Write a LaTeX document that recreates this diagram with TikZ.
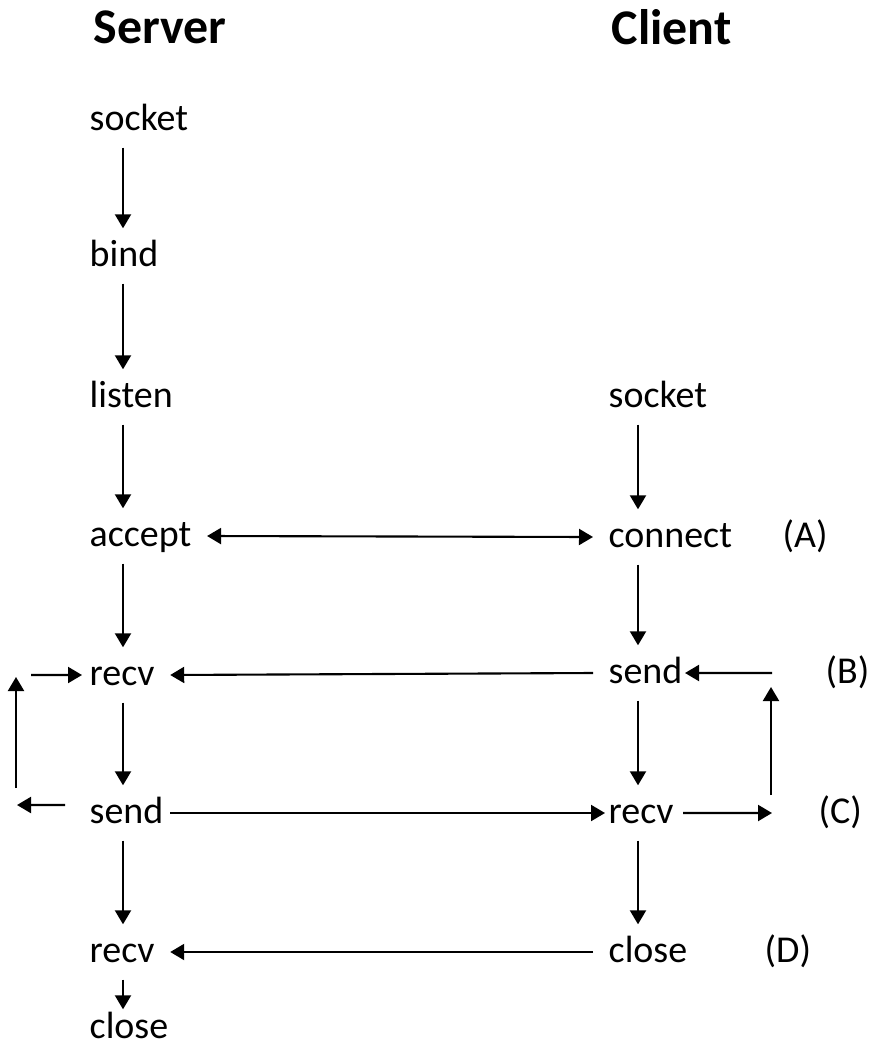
\documentclass[tikz,border=0pt]{standalone}
\usepackage{fontspec}
\setmainfont{Carlito}
\usetikzlibrary{arrows.meta}
\begin{document}
\begin{tikzpicture}[
    call/.style={anchor=base west,inner xsep=0.15cm,inner ysep=0,text height=0.37cm,text depth=0.17cm,font=\fontsize{10.8}{12}\selectfont},
    title/.style={anchor=base west,inner sep=0,font=\fontsize{14.2}{17}\selectfont\bfseries},
    tag/.style={anchor=base west,inner sep=0,font=\fontsize{10.8}{12}\selectfont},
    arr/.style={-{Triangle[length=0.14cm,width=0.16cm]},line width=0.6pt},
    darr/.style={{Triangle[length=0.14cm,width=0.16cm]}-{Triangle[length=0.14cm,width=0.16cm]},line width=0.6pt}
]
    \useasboundingbox (0,0) rectangle (8.7,-10.45);
    %% Headings
    \node[title] (server) at (0.93,-0.43) {Server};
    \node[title] (client) at (6.11,-0.44) {Client};
    %% Server calls
    \node[call] (sSocket) at (0.74,-1.30) {socket};
    \node[call] (sBind)   at (0.74,-2.66) {bind};
    \node[call] (sListen) at (0.74,-4.07) {listen};
    \node[call] (sAccept) at (0.74,-5.46) {accept};
    \node[call] (sRecv)   at (0.74,-6.85) {recv};
    \node[call] (sSend)   at (0.74,-8.23) {send};
    \node[call] (sRecvB)  at (0.74,-9.62) {recv};
    \node[call] (sClose)  at (0.74,-10.38) {close};
    %% Client calls
    \node[call] (cSocket)  at (5.93,-4.07) {socket};
    \node[call] (cConnect) at (5.93,-5.47) {connect};
    \node[call] (cSend)    at (5.93,-6.83) {send};
    \node[call] (cRecv)    at (5.93,-8.23) {recv};
    \node[call] (cClose)   at (5.93,-9.62) {close};
    %% Steps
    \node[tag] (lblA) at (7.82,-5.47) {(A)};
    \node[tag] (lblB) at (8.25,-6.83) {(B)};
    \node[tag] (lblC) at (8.18,-8.23) {(C)};
    \node[tag] (lblD) at (7.64,-9.62) {(D)};
    %% Columns
    \coordinate (sx) at (1.23,0);
    \coordinate (cx) at (6.38,0);
    %% Server flow
    \draw[arr] (sSocket.south -| sx) -- (sBind.north -| sx);
    \draw[arr] (sBind.south -| sx)   -- (sListen.north -| sx);
    \draw[arr] (sListen.south -| sx) -- (sAccept.north -| sx);
    \draw[arr] (sAccept.south -| sx) -- (sRecv.north -| sx);
    \draw[arr] (sRecv.south -| sx)   -- (sSend.north -| sx);
    \draw[arr] (sSend.south -| sx)   -- (sRecvB.north -| sx);
    \draw[arr,shorten >=-0.09cm] (sRecvB.south -| sx) -- (sClose.north -| sx);
    %% Client flow
    \draw[arr] (cSocket.south -| cx)  -- (cConnect.north -| cx);
    \draw[arr] (cConnect.south -| cx) -- (cSend.north -| cx);
    \draw[arr] (cSend.south -| cx)    -- (cRecv.north -| cx);
    \draw[arr] (cRecv.south -| cx)    -- (cClose.north -| cx);
    %% Between both sides
    \draw[darr] (sAccept.east) -- (cConnect.west);
    \draw[arr] (cSend.west) -- (sRecv.east);
    \draw[arr,shorten <=-0.09cm,shorten >=-0.12cm] (sSend.east) -- (cRecv.west);
    \draw[arr] (cClose.west) -- (sRecvB.east);
    %% Server loop
    \coordinate (lpA) at (0.17,-8.05);
    \coordinate (lpB) at (0.16,-7.88);
    \coordinate (lpC) at (0.16,-6.77);
    \coordinate (lpD) at (0.31,-6.75);
    \draw[arr,shorten <=0.09cm] ([yshift=0.08cm]sSend.west) -- (lpA);
    \draw[arr] (lpB) -- (lpC);
    \draw[arr,shorten >=-0.08cm] (lpD) -- (sRecv.west);
    %% Client loop
    \coordinate (rpA) at (7.72,-8.13);
    \coordinate (rpB) at (7.71,-7.95);
    \coordinate (rpC) at (7.71,-6.87);
    \coordinate (rpD) at (7.72,-6.73);
    \draw[arr,shorten <=-0.06cm] (cRecv.east) -- (rpA);
    \draw[arr] (rpB) -- (rpC);
    \draw[arr,shorten >=-0.13cm] (rpD) -- (cSend.east);
\end{tikzpicture}
\end{document}
